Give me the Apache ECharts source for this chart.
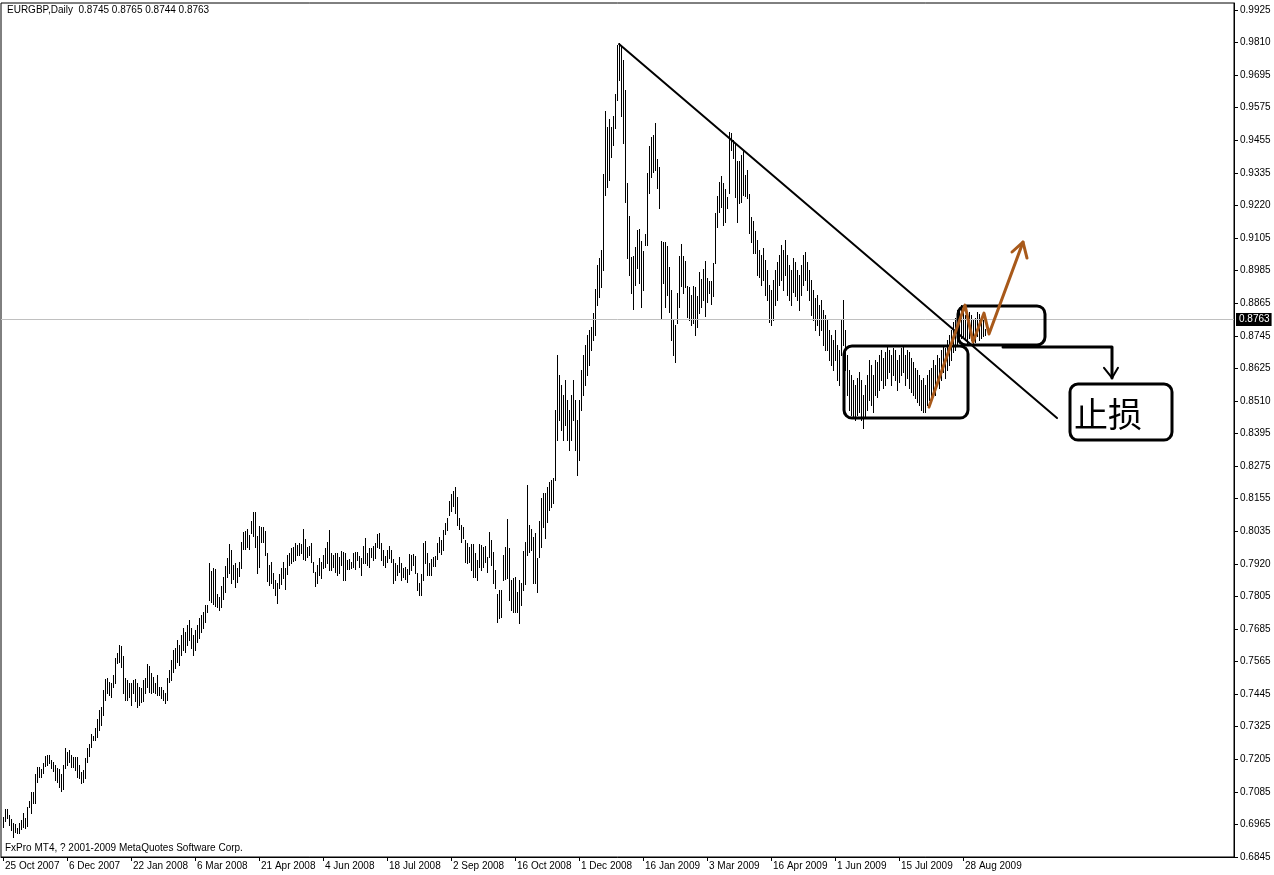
<!DOCTYPE html>
<html><head><meta charset="utf-8">
<script src="https://cdn.jsdelivr.net/npm/echarts@6/dist/echarts.min.js"></script>
<style>html,body{margin:0;padding:0;background:#fff}#c{width:1274px;height:875px}</style>
</head><body><div id="c"></div>
<script>
// ---- data ----
const symbolName = 'EURGBP,Daily';
const lastOHLC = [0.8745, 0.8765, 0.8744, 0.8763];
const dateLabels = ['25 Oct 2007','6 Dec 2007','22 Jan 2008','6 Mar 2008','21 Apr 2008','4 Jun 2008','18 Jul 2008','2 Sep 2008','16 Oct 2008','1 Dec 2008','16 Jan 2009','3 Mar 2009','16 Apr 2009','1 Jun 2009','15 Jul 2009','28 Aug 2009'];
const dateLabelBars = [0,32,64,96,128,160,192,224,256,288,320,352,384,416,448,480];
const priceLabels = ['0.6845','0.6965','0.7085','0.7205','0.7325','0.7445','0.7565','0.7685','0.7805','0.7920','0.8035','0.8155','0.8275','0.8395','0.8510','0.8625','0.8745','0.8865','0.8985','0.9105','0.9220','0.9335','0.9455','0.9575','0.9695','0.9810','0.9925'];
const barHigh = [
.6990,.7019,.7019,.6998,.6983,.6969,.6965,.6950,.6969,.6980,
.7005,.6987,.7027,.7049,.7081,.7081,.7147,.7172,.7172,.7165,
.7187,.7212,.7216,.7216,.7198,.7190,.7180,.7169,.7165,.7147,
.7180,.7241,.7227,.7234,.7216,.7209,.7209,.7209,.7180,.7154,
.7161,.7205,.7241,.7256,.7292,.7285,.7314,.7347,.7380,.7390,
.7453,.7493,.7496,.7482,.7478,.7507,.7569,.7587,.7616,.7613,
.7576,.7496,.7489,.7478,.7478,.7489,.7493,.7478,.7464,.7460,
.7489,.7496,.7547,.7540,.7514,.7500,.7478,.7507,.7464,.7464,
.7453,.7442,.7496,.7525,
.7562,.7598,.7605,.7635,.7616,.7653,.7678,.7664,.7689,.7707,.7678,.7653,.7671,.7689,.7714,.7725,.7736,.7762,
.7762,.7914,.7885,.7896,.7892,.7801,.7790,.7830,.7863,.7903,
.7932,.7983,.7961,.7907,.7914,.7896,.7918,.7990,.8027,.8030,
.8038,.8016,.8067,.8099,.8099,.8012,.8048,.8045,.8045,.8030,
.7950,.7907,.7918,.7878,.7852,.7841,.7874,.7896,.7918,.7896,
.7943,.7950,.7968,.7972,.7987,.7979,.7987,.7983,.8038,.8001,
.7972,.7976,.7987,.7918,.7881,.7907,.7932,.7918,.7943,.7968,
.7990,.8034,.7950,.7943,.7950,.7950,.7936,
.7958,.7954,.7950,.7925,.7928,.7918,.7950,.7954,.7954,.7939,
.7932,.7976,.8005,.7950,.7968,.7968,.7976,.7987,.8019,.8023,
.7987,.7961,.7939,.7961,.7976,.7961,.7928,.7914,.7907,.7936,
.7914,.7896,.7899,.7892,.7947,.7943,.7947,.7939,.7878,.7841,
.7874,.7987,.7994,.7950,.7914,.7928,.7936,.7939,.7987,.8008,
.7998,.8034,.8059,.8078,.8139,.8165,.8176,.8190,.8154,.8078,
.8052,.8045,.7998,.7987,.7972,.7983,.7983,.7950,.7925,.7983,
.7979,.7972,.7976,.7936,.8027,.7998,.7954,.7888,.7801,.7816,
.7816,.7943,.7972,.8074,.7968,.7852,.7859,.7863,.7808,.7852,
.7841,.7958,.7990,.8198,.8052,.8038,.8008,.8023,.7932,.8067,
.8150,.8169,.8169,.8190,.8209,.8216,.8223,
.8471,.8671,.8598,.8562,.8526,.8580,.8507,.8471,.8526,.8580,.8507,.8434,.8507,.8616,.8671,.8707,.8744,.8762,.8773,.8824,
.8910,.8998,.9023,.9052,.9329,.9558,.9500,.9529,.9500,.9540,
.9619,.9797,.9805,.9790,.9743,.9634,.9296,.9176,.9027,.9030,
.9063,.9125,.9129,.9085,.9048,.9110,.9333,.9431,.9463,.9471,
.9514,.9383,.9354,.9085,.9081,.9081,.9067,.8990,.8907,.8798,
.8780,.8896,.9030,.9074,.9030,.9012,.8921,.8918,.8889,.8921,
.8918,.8885,.8972,.8947,.8983,.9012,.8950,.8939,.8939,.9005,
.9187,.9248,.9300,.9322,.9296,.9274,.9245,.9482,.9478,.9452,
.9441,.9376,.9376,.9398,.9416,.9325,.9343,.9256,.9172,.9158,
.9121,.9089,.9052,
.9034,.9059,.9016,.8979,.8925,.8907,.8943,.8979,.9008,.9034,
.9070,.9052,.9089,.9034,.8998,.8979,.9023,.9008,.8979,.8961,
.8998,.9034,.9045,.9008,.8979,.8943,.8907,.8878,.8889,.8853,
.8871,.8834,.8816,.8798,.8762,.8744,.8725,.8762,.8707,.8689,
.8798,.8871,.8762,.8671,.8616,.8598,.8580,.8562,.8587,.8609,
.8580,.8526,.8562,.8598,.8653,.8634,.8598,.8653,.8645,.8671,
.8689,.8660,.8682,.8707,.8689,.8671,.8696,.8689,.8653,.8671,
.8696,.8703,.8671,.8689,.8682,.8660,.8645,.8623,.8616,.8598,
.8580,.8587,.8562,.8598,.8616,.8623,.8653,.8634,.8671,.8660,
.8689,.8707,.8696,.8725,.8744,.8762,.8791,.8805,.8834,.8827,
.8853,.8842,.8816,.8805,.8827,.8816,.8798,.8805,.8827,.8820,
.8805,.8798,.8765
];
const barLow = [
.6954,.6976,.6987,.6961,.6943,.6918,.6936,.6932,.6932,.6947,
.6954,.6950,.6958,.7027,.7005,.7041,.7041,.7118,.7136,.7136,
.7150,.7176,.7180,.7187,.7169,.7158,.7125,.7118,.7100,.7085,
.7092,.7169,.7180,.7190,.7172,.7172,.7161,.7136,.7132,.7114,
.7118,.7132,.7190,.7212,.7245,.7270,.7270,.7281,.7307,.7325,
.7361,.7416,.7442,.7434,.7427,.7464,.7478,.7551,.7554,.7536,
.7442,.7416,.7416,.7427,.7398,.7442,.7412,.7390,.7398,.7409,
.7412,.7442,.7464,.7445,.7442,.7445,.7442,.7434,.7434,.7423,
.7416,.7405,.7416,.7482,
.7489,.7518,.7533,.7555,.7544,.7580,.7598,.7591,.7616,.7635,.7605,.7580,.7598,.7627,.7642,.7664,.7678,.7700,
.7736,.7780,.7773,.7765,.7758,.7754,.7743,.7754,.7783,.7808,
.7863,.7878,.7841,.7856,.7827,.7845,.7867,.7896,.7965,.7965,
.7972,.7965,.8023,.8012,.7972,.7878,.7899,.7990,.7990,.7943,
.7848,.7834,.7841,.7823,.7798,.7769,.7823,.7838,.7859,.7819,
.7874,.7907,.7914,.7921,.7925,.7943,.7943,.7950,.7928,.7925,
.7936,.7943,.7918,.7881,.7830,.7841,.7870,.7859,.7896,.7899,
.7914,.7888,.7888,.7899,.7881,.7870,.7878,
.7907,.7852,.7852,.7892,.7892,.7896,.7899,.7892,.7925,.7899,
.7870,.7914,.7914,.7907,.7899,.7936,.7925,.7932,.7972,.7968,
.7925,.7907,.7899,.7918,.7932,.7918,.7841,.7852,.7870,.7881,
.7852,.7863,.7856,.7845,.7874,.7888,.7907,.7878,.7816,.7798,
.7798,.7852,.7914,.7870,.7870,.7870,.7903,.7903,.7928,.7954,
.7947,.7961,.8019,.8034,.8088,.8103,.8121,.8096,.8052,.8038,
.7990,.8005,.7918,.7914,.7918,.7888,.7863,.7863,.7852,.7899,
.7888,.7899,.7918,.7881,.7936,.7907,.7841,.7823,.7700,.7714,
.7718,.7852,.7856,.7859,.7780,.7744,.7736,.7736,.7736,.7696,
.7762,.7816,.7838,.7943,.7954,.7961,.7841,.7841,.7808,.7936,
.7972,.8045,.8005,.8063,.8107,.8117,.8132,
.8216,.8362,.8434,.8398,.8362,.8416,.8362,.8325,.8362,.8434,.8325,.8234,.8289,.8471,.8526,.8562,.8598,.8634,.8689,.8725,
.8744,.8853,.8881,.8918,.8979,.9253,.9282,.9307,.9391,.9434,
.9496,.9598,.9670,.9540,.9442,.9227,.9023,.8961,.8896,.8838,
.8925,.8987,.8932,.8845,.8907,.9070,.9070,.9260,.9318,.9336,
.9343,.9278,.9205,.8806,.8932,.8845,.8889,.8827,.8725,.8671,
.8645,.8787,.8845,.8921,.8896,.8918,.8809,.8798,.8780,.8787,
.8744,.8773,.8824,.8845,.8871,.8813,.8863,.8896,.8856,.8885,
.9005,.9136,.9190,.9209,.9143,.9154,.9205,.9260,.9416,.9387,
.9245,.9154,.9223,.9227,.9253,.9249,.9241,.9114,.9081,.9041,
.9041,.8961,.8954,
.8925,.8943,.8889,.8871,.8791,.8780,.8798,.8853,.8871,.8925,
.8943,.8907,.8961,.8889,.8871,.8853,.8900,.8885,.8871,.8834,
.8889,.8925,.8943,.8907,.8871,.8816,.8798,.8762,.8780,.8744,
.8762,.8707,.8689,.8689,.8653,.8634,.8616,.8653,.8580,.8562,
.8671,.8707,.8616,.8526,.8471,.8453,.8442,.8434,.8453,.8463,
.8434,.8405,.8442,.8471,.8507,.8489,.8463,.8526,.8518,.8544,
.8580,.8551,.8562,.8587,.8609,.8562,.8598,.8580,.8544,.8573,
.8598,.8609,.8562,.8587,.8551,.8536,.8526,.8515,.8500,.8489,
.8471,.8463,.8463,.8489,.8507,.8511,.8536,.8526,.8562,.8551,
.8580,.8609,.8587,.8616,.8634,.8653,.8682,.8689,.8707,.8718,
.8733,.8740,.8725,.8707,.8733,.8725,.8707,.8718,.8740,.8725,
.8733,.8740,.8744
];
// hand-drawn annotations, in chart coordinates [bar index, price]
const trendLine = [[308, 0.9801], [527, 0.8441]];
const boxRange = [[420.5, 0.8703], [482.5, 0.8441]];
const boxBreak = [[477.5, 0.8849], [521, 0.8707]];
const boxStop = [[533.5, 0.8565], [584.5, 0.8361]];
const stopArrow = [[500, 0.8700], [554.5, 0.8700], [554.5, 0.8587]];
const stopArrowHead = [[550.5, 0.8624], [554.5, 0.8587], [557.5, 0.8624]];
const stopText = '止损';
const stopTextAt = [535.5, 0.8454];
const brownPath = [[463, 0.8481], [481, 0.8852], [485, 0.8718], [490.5, 0.8823], [493, 0.8747], [510, 0.9081]];
const brownHead = [[504.5, 0.9045], [510, 0.9081], [512, 0.9023]];
const copyright = 'FxPro MT4, ? 2001-2009 MetaQuotes Software Corp.';

// ---- chart ----
const FONT = '"Liberation Sans", Arial, sans-serif';
const bars = barHigh.map((h, i) => [i, h, barLow[i]]);
const pFirst = parseFloat(priceLabels[0]), pLast = parseFloat(priceLabels[priceLabels.length - 1]);
const pStep = (pLast - pFirst) / (priceLabels.length - 1);
const priceTickVals = priceLabels.map((s, j) => pFirst + j * pStep);

const chart = echarts.init(document.getElementById('c'), null, {renderer: 'canvas'});
chart.setOption({
  animation: false,
  backgroundColor: '#fff',
  title: {
    text: symbolName + '  ' + lastOHLC.map(v => v.toFixed(4)).join(' '),
    left: 7, top: 5, padding: 0,
    textStyle: {fontSize: 10, fontWeight: 'normal', color: '#000', fontFamily: FONT}
  },
  grid: {left: 1, top: 3, right: 40, bottom: 18, show: true, borderColor: '#000', borderWidth: 1, backgroundColor: '#fff'},
  xAxis: {
    type: 'value', min: -1, max: 615.5,
    axisLine: {show: true, onZero: false, lineStyle: {color: '#000', width: 1}},
    axisTick: {show: true, customValues: dateLabelBars, length: 4, lineStyle: {color: '#000'}},
    axisLabel: {customValues: dateLabelBars, formatter: v => dateLabels[dateLabelBars.indexOf(Math.round(v))] || '',
      align: 'left', margin: 4, fontSize: 10, color: '#000', fontFamily: FONT, padding: [0, 0, 0, 2]},
    splitLine: {show: false}
  },
  yAxis: {
    type: 'value', position: 'right', min: 0.6845, max: 0.99505, scale: true,
    axisLine: {show: true, onZero: false, lineStyle: {color: '#000', width: 1}},
    axisTick: {show: true, customValues: priceTickVals, length: 4, lineStyle: {color: '#000'}},
    axisLabel: {customValues: priceTickVals, formatter: v => priceLabels[Math.round((v - pFirst) / pStep)] || '',
      margin: 6, fontSize: 10, color: '#000', fontFamily: FONT},
    splitLine: {show: false}
  },
  series: [{
    type: 'custom',
    data: bars,
    encode: {x: 0, y: [1, 2]},
    clip: true,
    renderItem: function (params, api) {
      const i = api.value(0);
      const t = api.coord([i, api.value(1)]);
      const b = api.coord([i, api.value(2)]);
      const x = Math.round(t[0]) + 0.5;
      return {type: 'line', shape: {x1: x, y1: Math.round(t[1]), x2: x, y2: Math.round(b[1]) + 1},
        style: {stroke: '#000', lineWidth: 1}};
    },
    markLine: {
      silent: true, symbol: ['none', 'none'], z: 10,
      lineStyle: {color: '#c0c0c0', width: 1, type: 'solid'},
      label: {show: true, position: 'end', distance: 2, formatter: lastOHLC[3].toFixed(4),
        color: '#fff', backgroundColor: '#000', padding: [2, 2, 1, 3], fontSize: 10, fontFamily: FONT},
      data: [{yAxis: lastOHLC[3]}]
    }
  }]
});

const px = p => chart.convertToPixel({gridIndex: 0}, p);
function rectFrom(r) {
  const a = px(r[0]), b = px(r[1]);
  return {type: 'rect', z: 100, shape: {x: Math.min(a[0], b[0]), y: Math.min(a[1], b[1]), width: Math.abs(b[0] - a[0]), height: Math.abs(b[1] - a[1]), r: 8},
    style: {fill: 'none', stroke: '#000', lineWidth: 3}};
}
function poly(pts, color, w) {
  return {type: 'polyline', z: 100, shape: {points: pts.map(px)}, style: {stroke: color, lineWidth: w, fill: null, lineJoin: 'round', lineCap: 'round'}};
}
const st = px(stopTextAt);
const BROWN = '#a8591a';
chart.setOption({
  graphic: [
    poly(trendLine, '#000', 2),
    rectFrom(boxRange),
    rectFrom(boxBreak),
    rectFrom(boxStop),
    poly(stopArrow, '#000', 3),
    poly(stopArrowHead, '#000', 2),
    {type: 'text', z: 100, x: st[0], y: st[1], style: {text: stopText, fill: '#000', font: '34px "Noto Sans CJK SC"', textVerticalAlign: 'middle'}},
    poly(brownPath, BROWN, 3),
    poly(brownHead, BROWN, 3),
    {type: 'text', z: 100, left: 5, top: 843, style: {text: copyright, fill: '#000', font: '10px ' + FONT}}
  ]
});
</script>
</body></html>
